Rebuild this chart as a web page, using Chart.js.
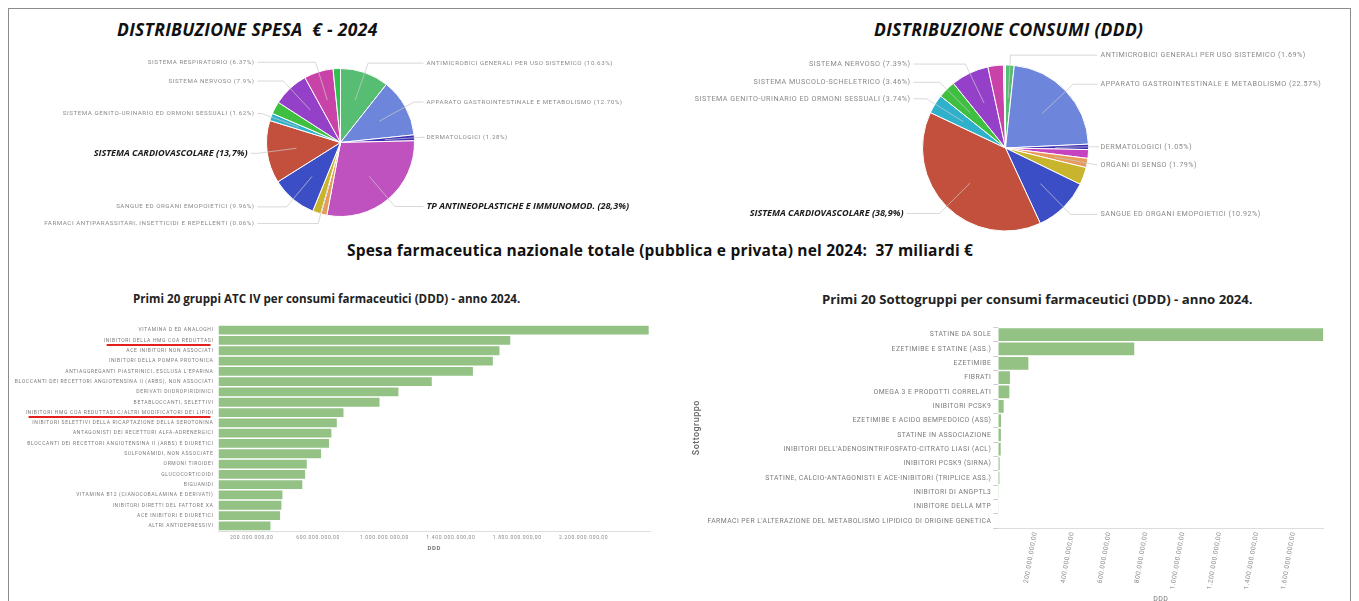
<!DOCTYPE html>
<html lang="it">
<head>
<meta charset="utf-8">
<title>Spesa e consumi farmaceutici 2024</title>
<script src="https://cdn.jsdelivr.net/npm/chart.js@4.4.1/dist/chart.umd.min.js"></script>
<style>
  html, body { margin: 0; padding: 0; background: #fff; }
  body { width: 1359px; height: 601px; position: relative; overflow: hidden; }
  .cornice { position: absolute; left: 8px; top: 8px; width: 1343px; height: 620px;
             border: 1.5px solid #8c8c8c; border-bottom: none; box-sizing: border-box; }
  .titolo-torta { position: absolute; top: 18px; line-height: 22px; white-space: nowrap;
                  font-family: 'Open Sans', sans-serif; font-weight: 700; font-style: italic;
                  font-size: 17.5px; letter-spacing: 0.3px; color: #111; }
  .totale { position: absolute; left: 347px; top: 240px; line-height: 20px; white-space: nowrap;
            font-family: 'Open Sans', sans-serif; font-weight: 700; font-size: 15.5px;
            letter-spacing: 0.2px; color: #111; }
  .titolo-barre { position: absolute; top: 290px; line-height: 18px; white-space: nowrap;
                  font-family: 'Open Sans', sans-serif; font-weight: 700; color: #222; }
  canvas { position: absolute; }
</style>
</head>
<body>
<div class="cornice"></div>
<div class="titolo-torta" style="left:117px">DISTRIBUZIONE SPESA&nbsp; € - 2024</div>
<div class="titolo-torta" style="left:874px">DISTRIBUZIONE CONSUMI (DDD)</div>
<div class="totale">Spesa farmaceutica nazionale totale (pubblica e privata) nel 2024:&nbsp; 37 miliardi €</div>
<div class="titolo-barre" style="left:133px;font-size:11.6px">Primi 20 gruppi ATC IV per consumi farmaceutici (DDD) - anno 2024.</div>
<div class="titolo-barre" style="left:822px;font-size:13.2px">Primi 20 Sottogruppi per consumi farmaceutici (DDD) - anno 2024.</div>

<canvas id="torta-spesa" width="640" height="195" style="left:20px;top:45px"></canvas>
<canvas id="torta-consumi" width="671" height="216" style="left:670px;top:40px"></canvas>
<canvas id="barre-atc" width="670" height="245" style="left:0px;top:315px"></canvas>
<canvas id="barre-sottogruppi" width="660" height="290" style="left:690px;top:315px"></canvas>

<script>
// quote percentuali, in senso orario a partire dalle ore 12
const spesaVoci = [
  'ANTIMICROBICI GENERALI PER USO SISTEMICO',
  'APPARATO GASTROINTESTINALE E METABOLISMO',
  'DERMATOLOGICI',
  'TP ANTINEOPLASTICHE E IMMUNOMOD.',
  'ORGANI DI SENSO',
  'FARMACI ANTIPARASSITARI, INSETTICIDI E REPELLENTI',
  'PREPARATI ORMONALI SISTEMICI',
  'SANGUE ED ORGANI EMOPOIETICI',
  'SISTEMA CARDIOVASCOLARE',
  'SISTEMA GENITO-URINARIO ED ORMONI SESSUALI',
  'SISTEMA MUSCOLO-SCHELETRICO',
  'SISTEMA NERVOSO',
  'SISTEMA RESPIRATORIO',
  'VARI'
];
const spesaQuote = ['10.63', '12.70', '1.28', '28.3', '1.3', '0.06', '1.8', '9.96', '13.7', '1.62', '2.7', '7.9', '6.37', '1.6'];
const spesaSenzaEtichetta = [4, 6, 10, 13];
const spesaEvidenza = [3, 8];

const consumiVoci = [
  'ANTIMICROBICI GENERALI PER USO SISTEMICO',
  'APPARATO GASTROINTESTINALE E METABOLISMO',
  'DERMATOLOGICI',
  'TP ANTINEOPLASTICHE E IMMUNOMOD.',
  'ORGANI DI SENSO',
  'PREPARATI ORMONALI SISTEMICI',
  'SANGUE ED ORGANI EMOPOIETICI',
  'SISTEMA CARDIOVASCOLARE',
  'SISTEMA GENITO-URINARIO ED ORMONI SESSUALI',
  'SISTEMA MUSCOLO-SCHELETRICO',
  'SISTEMA NERVOSO',
  'SISTEMA RESPIRATORIO',
  'VARI'
];
const consumiQuote = ['1.69', '22.57', '1.05', '1.7', '1.79', '3.4', '10.92', '38.9', '3.74', '3.46', '7.39', '3.0', '0.4'];
const consumiSenzaEtichetta = [3, 5, 11, 12];
const consumiEvidenza = [7];

// primi 20 gruppi ATC IV per DDD
const gruppiAtc = [
  'VITAMINA D ED ANALOGHI',
  'INIBITORI DELLA HMG COA REDUTTASI',
  'ACE INIBITORI NON ASSOCIATI',
  'INIBITORI DELLA POMPA PROTONICA',
  'ANTIAGGREGANTI PIASTRINICI, ESCLUSA L\'EPARINA',
  'BLOCCANTI DEI RECETTORI ANGIOTENSINA II (ARBS), NON ASSOCIATI',
  'DERIVATI DIIDROPIRIDINICI',
  'BETABLOCCANTI, SELETTIVI',
  'INIBITORI HMG COA REDUTTASI C/ALTRI MODIFICATORI DEI LIPIDI',
  'INIBITORI SELETTIVI DELLA RICAPTAZIONE DELLA SEROTONINA',
  'ANTAGONISTI DEI RECETTORI ALFA-ADRENERGICI',
  'BLOCCANTI DEI RECETTORI ANGIOTENSINA II (ARBS) E DIURETICI',
  'SULFONAMIDI, NON ASSOCIATE',
  'ORMONI TIROIDEI',
  'GLUCOCORTICOIDI',
  'BIGUANIDI',
  'VITAMINA B12 (CIANOCOBALAMINA E DERIVATI)',
  'INIBITORI DIRETTI DEL FATTORE XA',
  'ACE INIBITORI E DIURETICI',
  'ALTRI ANTIDEPRESSIVI'
];
const gruppiDdd = [2592e6, 1758e6, 1693e6, 1653e6, 1533e6, 1285e6, 1084e6, 970e6, 753e6, 713e6,
                   680e6, 666e6, 618e6, 532e6, 522e6, 505e6, 385e6, 379e6, 371e6, 313e6];
const gruppiSottolineati = [1, 8];

// sottogruppi ipolipemizzanti per DDD
const sottogruppi = [
  'STATINE DA SOLE',
  'EZETIMIBE E STATINE (ASS.)',
  'EZETIMIBE',
  'FIBRATI',
  'OMEGA 3 E PRODOTTI CORRELATI',
  'INIBITORI PCSK9',
  'EZETIMIBE E ACIDO BEMPEDOICO (ASS)',
  'STATINE IN ASSOCIAZIONE',
  'INIBITORI DELL\'ADENOSINTRIFOSFATO-CITRATO LIASI (ACL)',
  'INIBITORI PCSK9 (SIRNA)',
  'STATINE, CALCIO-ANTAGONISTI E ACE-INIBITORI (TRIPLICE ASS.)',
  'INIBITORI DI ANGPTL3',
  'INIBITORE DELLA MTP',
  'FARMACI PER L\'ALTERAZIONE DEL METABOLISMO LIPIDICO DI ORIGINE GENETICA'
];
const sottogruppiDdd = [1762e6, 737e6, 163e6, 63e6, 60e6, 29e6, 15e6, 14e6, 13e6, 7e6, 6e6, 1.5e6, 1e6, 0.5e6];

const coloriSpesa = ['#57bd72', '#6d85db', '#3d2db6', '#bf52bf', '#e69b5a', '#999999', '#c8b42d',
                     '#3c4ec5', '#c2503c', '#2fb1cc', '#3fbf3f', '#9440c9', '#c942a8', '#2cc24c'];
const coloriConsumi = ['#57bd72', '#6d85db', '#3d2db6', '#c543c0', '#e69b5a', '#c8b42d',
                       '#3c4ec5', '#c2503c', '#2fb1cc', '#3fbf3f', '#9440c9', '#c942a8', '#eeeeee'];
const verde = '#93c284';

Chart.defaults.font.family = 'Roboto';
Chart.defaults.animation = false;
Chart.defaults.plugins.legend.display = false;
Chart.defaults.plugins.tooltip.enabled = false;

// formato italiano: 200.000.000,00
const formatoDdd = v => Math.round(v).toString().replace(/\B(?=(\d{3})+(?!\d))/g, '.') + ',00';

// testo un po' spaziato su tutto il canvas
const spaziatura = {
  id: 'spaziatura',
  beforeDraw(chart, args, opts) { chart.ctx.letterSpacing = (opts.px || 0) + 'px'; },
  afterDraw(chart) { chart.ctx.letterSpacing = '0px'; }
};

// etichette esterne con linea di richiamo
const etichetteTorta = {
  id: 'etichetteTorta',
  afterDatasetsDraw(chart, args, opts) {
    const ctx = chart.ctx;
    const voci = chart.data.labels;
    const quote = opts.quote;
    chart.getDatasetMeta(0).data.forEach((arc, i) => {
      if (opts.nascoste.includes(i)) return;
      const p = arc.getProps(['x', 'y', 'startAngle', 'endAngle', 'outerRadius'], true);
      const mezzo = (p.startAngle + p.endAngle) / 2;
      const c = Math.cos(mezzo), s = Math.sin(mezzo);
      const gomito = p.outerRadius + 10;
      const ex = p.x + c * gomito, ey = p.y + s * gomito;
      const destra = c >= 0;
      const forte = opts.evidenza.includes(i);
      const stacco = 12 + (forte && !destra ? 7 : 0);
      const tx = destra ? p.x + p.outerRadius + stacco : p.x - p.outerRadius - stacco;

      ctx.save();
      ctx.strokeStyle = 'rgba(200,200,200,0.9)';
      ctx.lineWidth = 0.8;
      ctx.beginPath();
      ctx.moveTo(p.x + c * p.outerRadius * 0.6, p.y + s * p.outerRadius * 0.6);
      ctx.lineTo(ex, ey);
      ctx.lineTo(destra ? tx - 3 : tx + 3, ey);
      ctx.stroke();

      let testo;
      if (forte) {
        ctx.font = 'italic 700 ' + opts.dimForte + 'px "Open Sans"';
        ctx.letterSpacing = '0px';
        ctx.fillStyle = '#1a1a1a';
        testo = voci[i] + ' (' + quote[i].replace('.', ',') + '%)';
      } else {
        ctx.font = opts.dim + 'px Roboto';
        ctx.letterSpacing = opts.spazio + 'px';
        ctx.fillStyle = '#8a8a8a';
        testo = voci[i] + ' (' + quote[i] + '%)';
      }
      ctx.textAlign = destra ? 'left' : 'right';
      ctx.textBaseline = 'middle';
      ctx.fillText(testo, tx, ey);
      ctx.restore();
    });
  }
};

// sottolineatura rossa sotto alcune etichette dell'asse
const sottolinea = {
  id: 'sottolinea',
  afterDraw(chart, args, opts) {
    const scala = chart.scales.y;
    const ctx = chart.ctx;
    const t = scala.options.ticks;
    ctx.save();
    ctx.font = t.font.size + 'px Roboto';
    ctx.letterSpacing = opts.spazio + 'px';
    ctx.strokeStyle = '#e3201b';
    ctx.lineWidth = 2;
    opts.indici.forEach(i => {
      const y = scala.getPixelForTick(i) + 4.5;
      const fine = scala.right - t.padding;
      const w = ctx.measureText(chart.data.labels[i]).width;
      ctx.beginPath();
      ctx.moveTo(fine - w + 3, y);
      ctx.lineTo(fine - 3, y);
      ctx.stroke();
    });
    ctx.restore();
  }
};

// etichette dell'asse x ruotate, una ogni passo
const etichetteRuotate = {
  id: 'etichetteRuotate',
  afterDraw(chart, args, opts) {
    const s = chart.scales.x;
    const ctx = chart.ctx;
    ctx.save();
    ctx.font = opts.dim + 'px Roboto';
    ctx.letterSpacing = opts.spazio + 'px';
    ctx.fillStyle = '#8a8a8a';
    ctx.textAlign = 'right';
    ctx.textBaseline = 'middle';
    for (let v = opts.passo; v <= s.max; v += opts.passo) {
      ctx.save();
      ctx.translate(s.getPixelForValue(v), s.top + 4);
      ctx.rotate(-opts.angolo * Math.PI / 180);
      ctx.fillText(formatoDdd(v), 0, 0);
      ctx.restore();
    }
    ctx.restore();
  }
};

function torta(id, voci, quote, colori, nascoste, evidenza, padding, dim, spazio) {
  return new Chart(document.getElementById(id), {
    type: 'pie',
    data: {
      labels: voci,
      datasets: [{
        data: quote.map(Number),
        backgroundColor: colori,
        borderColor: '#ffffff',
        borderWidth: 1
      }]
    },
    options: {
      responsive: false,
      layout: { padding: padding },
      plugins: {
        etichetteTorta: { quote: quote, nascoste: nascoste, evidenza: evidenza, dim: dim, spazio: spazio, dimForte: 9.1 }
      }
    },
    plugins: [etichetteTorta]
  });
}

torta('torta-spesa', spesaVoci, spesaQuote, coloriSpesa, spesaSenzaEtichetta, spesaEvidenza,
      { left: 246, right: 245, top: 23, bottom: 23 }, 6.2, 0.55);
torta('torta-consumi', consumiVoci, consumiQuote, coloriConsumi, consumiSenzaEtichetta, consumiEvidenza,
      { left: 252, right: 252, top: 24.5, bottom: 24.5 }, 7.2, 0.5);

new Chart(document.getElementById('barre-atc'), {
  type: 'bar',
  data: {
    labels: gruppiAtc,
    datasets: [{ data: gruppiDdd, backgroundColor: verde, barPercentage: 0.85, categoryPercentage: 1 }]
  },
  options: {
    responsive: false,
    indexAxis: 'y',
    layout: { padding: { top: 10, right: 20, bottom: 5, left: 0 } },
    scales: {
      x: {
        min: 0,
        max: 2.6e9,
        grid: { display: false, drawTicks: false },
        border: { display: true, color: '#dddddd' },
        ticks: { stepSize: 200e6, padding: 4, color: '#8a8a8a', font: { size: 5 }, maxRotation: 0, autoSkip: false, callback: v => formatoDdd(v) },
        afterBuildTicks: s => { s.ticks = s.ticks.filter(t => t.value < s.max && t.value % 400e6 === 200e6); },
        afterFit: s => { s.height = 24; },
        title: { display: true, text: 'DDD', color: '#777', font: { size: 6, weight: 'bold' }, padding: { top: 0, bottom: 3 } }
      },
      y: {
        grid: { display: false, drawTicks: false },
        border: { display: false },
        ticks: { padding: 5, color: '#7a7a7a', font: { size: 5 }, autoSkip: false },
        afterFit: s => { s.width = 218.5; }
      }
    },
    plugins: {
      spaziatura: { px: 0.65 },
      sottolinea: { indici: gruppiSottolineati, spazio: 0.65 }
    }
  },
  plugins: [spaziatura, sottolinea]
});

new Chart(document.getElementById('barre-sottogruppi'), {
  type: 'bar',
  data: {
    labels: sottogruppi,
    datasets: [{ data: sottogruppiDdd, backgroundColor: verde, barPercentage: 0.89, categoryPercentage: 1 }]
  },
  options: {
    responsive: false,
    indexAxis: 'y',
    layout: { padding: { top: 12.5, right: 26.7, bottom: 0, left: 0 } },
    scales: {
      x: {
        min: 0,
        max: Math.max(...sottogruppiDdd),
        grid: { display: false, drawTicks: false },
        border: { display: true, color: '#dddddd' },
        ticks: { display: false },
        afterFit: s => { s.height = 77; },
        title: { display: true, text: 'DDD', color: '#777', font: { size: 7 }, padding: { top: 0, bottom: 2 } }
      },
      y: {
        grid: { drawOnChartArea: false, drawTicks: true, tickLength: 5, color: '#cccccc' },
        border: { display: false },
        ticks: { padding: 2, color: '#7a7a7a', font: { size: 6.8 }, autoSkip: false },
        afterFit: s => { s.width = 308.3; },
        title: { display: true, text: 'Sottogruppo', color: '#666', font: { size: 9, weight: '500' }, padding: 1 }
      }
    },
    plugins: {
      spaziatura: { px: 0.45 },
      etichetteRuotate: { passo: 200e6, angolo: 80, dim: 6.5, spazio: 0.5 }
    }
  },
  plugins: [spaziatura, etichetteRuotate]
});
</script>
</body>
</html>
